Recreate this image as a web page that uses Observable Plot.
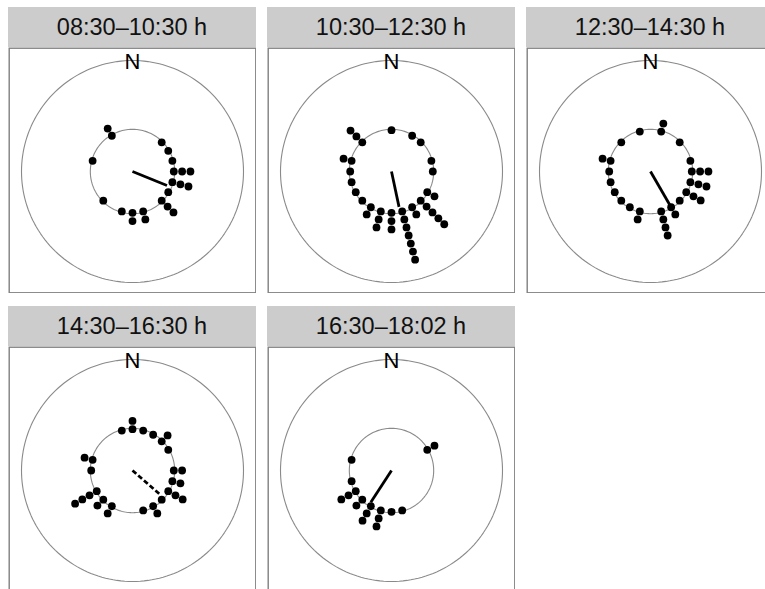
<!DOCTYPE html>
<html><head><meta charset="utf-8">
<script src="https://cdn.jsdelivr.net/npm/d3@7"></script>
<script src="https://cdn.jsdelivr.net/npm/@observablehq/plot@0.6"></script>
<style>
body{margin:0;background:#fff;font-family:"Liberation Sans",Arial,Helvetica,sans-serif;}
#wrap{position:relative;width:765px;height:589px;overflow:hidden;background:#fff;}
.hdr{position:absolute;height:40px;width:248px;background:#cccccc;text-align:center;line-height:40px;font-size:23.5px;color:#111;}
.pnl{position:absolute;width:248px;height:246px;}
.pnl svg{display:block;}
</style></head><body><div id="wrap"></div>
<script>
// Time windows (facet titles)
const periods = ["08:30–10:30 h", "10:30–12:30 h", "12:30–14:30 h", "14:30–16:30 h", "16:30–18:02 h"];

// Direction bins (degrees clockwise from north) and number of stacked points per bin
const angles1 = [330, 285, 45, 60, 75, 90, 105, 120, 135, 165, 180, 195, 225];
const counts1 = [2, 1, 1, 1, 1, 3, 3, 1, 3, 2, 2, 1, 1];

const angles2 = [0, 30, 45, 75, 90, 120, 135, 150, 165, 180, 195, 210, 225, 240, 255, 270, 285, 315];
const counts2 = [1, 1, 1, 1, 1, 2, 5, 2, 7, 3, 3, 2, 1, 1, 1, 1, 2, 3];

const angles3 = [15, 345, 315, 45, 75, 90, 105, 120, 135, 150, 165, 195, 210, 225, 240, 255, 270, 285];
const counts3 = [2, 1, 1, 1, 1, 3, 3, 3, 1, 2, 4, 2, 1, 1, 1, 1, 1, 2];

const angles4 = [0, 345, 15, 30, 45, 60, 90, 105, 120, 135, 150, 165, 210, 225, 240, 270, 285];
const counts4 = [2, 1, 1, 1, 2, 1, 2, 2, 3, 1, 2, 1, 2, 2, 4, 1, 2];

const angles5 = [60, 285, 255, 240, 225, 210, 195, 180, 165];
const counts5 = [2, 1, 1, 3, 2, 3, 3, 1, 1];

// Mean vector per window: direction (deg) and length (relative to outer circle radius)
const meanAngle = [112, 168, 150, 131, 213];
const meanLength = [0.335, 0.326, 0.346, 0.323, 0.342];
const meanDashed = [false, false, false, true, false];

const allAngles = [angles1, angles2, angles3, angles4, angles5];
const allCounts = [counts1, counts2, counts3, counts4, counts5];

// geometry in data units (outer circle radius = 1)
const innerR = 0.380;
const firstDotR = 0.372;
const stackStep = 0.075;

const lefts = [8, 267, 526, 8, 267];
const tops = [7, 7, 7, 306, 306];

const wrap = document.getElementById("wrap");
const rad = d => d * Math.PI / 180;

function circlePts(r) {
  return d3.range(0, 361, 2).map(a => ({x: r * Math.sin(rad(a)), y: r * Math.cos(rad(a))}));
}

periods.forEach((title, i) => {
  const hdr = document.createElement("div");
  hdr.className = "hdr";
  hdr.style.left = lefts[i] + "px";
  hdr.style.top = tops[i] + "px";
  hdr.textContent = title;
  wrap.appendChild(hdr);

  const pts = [];
  allAngles[i].forEach((a, j) => {
    for (let k = 0; k < allCounts[i][j]; k++) {
      const r = firstDotR + k * stackStep;
      pts.push({x: r * Math.sin(rad(a)), y: r * Math.cos(rad(a))});
    }
  });
  const L = meanLength[i], A = meanAngle[i];
  const vec = [{x1: 0, y1: 0, x2: L * Math.sin(rad(A)), y2: L * Math.cos(rad(A))}];

  const plot = Plot.plot({
    width: 248, height: 246, margin: 0,
    style: {fontFamily: "Liberation Sans, Arial, Helvetica, sans-serif", background: "transparent"},
    x: {domain: [-124 / 111, 124 / 111], axis: null},
    y: {domain: [-122 / 111, 124 / 111], axis: null},
    marks: [
      Plot.line(circlePts(1), {x: "x", y: "y", stroke: "#8a8a8a", strokeWidth: 1.1}),
      Plot.line(circlePts(innerR), {x: "x", y: "y", stroke: "#8a8a8a", strokeWidth: 1.1}),
      Plot.link(vec, {x1: "x1", y1: "y1", x2: "x2", y2: "y2", stroke: "#000", strokeWidth: 2.8,
        strokeDasharray: meanDashed[i] ? "5,2.6" : null}),
      Plot.dot(pts, {x: "x", y: "y", r: 3.9, fill: "#000", stroke: null}),
      Plot.text([{x: 0, y: 1, t: "N"}], {x: "x", y: "y", text: "t", fontSize: 22, fill: "#000", dy: 1}),
      Plot.frame({stroke: "#808080", strokeWidth: 1.4, inset: 0.7})
    ]
  });
  const box = document.createElement("div");
  box.className = "pnl";
  box.style.left = lefts[i] + "px";
  box.style.top = (tops[i] + 40) + "px";
  box.appendChild(plot);
  wrap.appendChild(box);
});
</script>
</body></html>
